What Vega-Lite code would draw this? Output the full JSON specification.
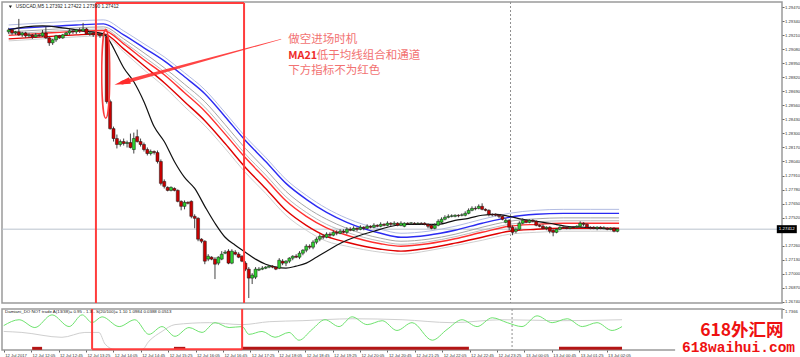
{
"$schema": "https://vega.github.io/schema/vega-lite/v6.json",
"padding": 0,
"background": "white",
"spacing": 2,
"config": {
  "view": {"stroke": "#9a9a9a", "strokeWidth": 1.5},
  "font": "Liberation Sans",
  "axis": {"labelFont": "Liberation Sans", "labelFontSize": 4.2, "labelColor": "#333333", "tickColor": "#666666", "domain": false, "grid": false, "labelOverlap": false}
},
"datasets": {
  "candles": [
{"i":0,"o":1.29243,"h":1.2928,"l":1.29224,"c":1.29261},
{"i":1,"o":1.29261,"h":1.2927,"l":1.29215,"c":1.29233},
{"i":2,"o":1.29233,"h":1.29252,"l":1.29215,"c":1.29243},
{"i":3,"o":1.29243,"h":1.29363,"l":1.29206,"c":1.29215},
{"i":4,"o":1.29215,"h":1.29243,"l":1.29196,"c":1.29233},
{"i":5,"o":1.29233,"h":1.29243,"l":1.29187,"c":1.29206},
{"i":6,"o":1.29206,"h":1.29233,"l":1.29187,"c":1.29215},
{"i":7,"o":1.29215,"h":1.29224,"l":1.29178,"c":1.29196},
{"i":8,"o":1.29196,"h":1.29233,"l":1.29187,"c":1.29215},
{"i":9,"o":1.29215,"h":1.29224,"l":1.29196,"c":1.29206},
{"i":10,"o":1.29206,"h":1.29261,"l":1.29196,"c":1.29233},
{"i":11,"o":1.29233,"h":1.29289,"l":1.29178,"c":1.29187},
{"i":12,"o":1.29187,"h":1.29196,"l":1.29113,"c":1.29141},
{"i":13,"o":1.29141,"h":1.29178,"l":1.29122,"c":1.29169},
{"i":14,"o":1.29169,"h":1.29215,"l":1.2915,"c":1.29206},
{"i":15,"o":1.29206,"h":1.29215,"l":1.29178,"c":1.29187},
{"i":16,"o":1.29187,"h":1.29224,"l":1.29178,"c":1.29215},
{"i":17,"o":1.29215,"h":1.29243,"l":1.29206,"c":1.29233},
{"i":18,"o":1.29233,"h":1.2927,"l":1.29215,"c":1.29252},
{"i":19,"o":1.29252,"h":1.29261,"l":1.29224,"c":1.29243},
{"i":20,"o":1.29243,"h":1.2927,"l":1.29224,"c":1.29261},
{"i":21,"o":1.29261,"h":1.2928,"l":1.29233,"c":1.29252},
{"i":22,"o":1.29252,"h":1.29326,"l":1.29243,"c":1.2927},
{"i":23,"o":1.2927,"h":1.2928,"l":1.29215,"c":1.29224},
{"i":24,"o":1.29224,"h":1.29252,"l":1.29206,"c":1.29233},
{"i":25,"o":1.29233,"h":1.29243,"l":1.29196,"c":1.29215},
{"i":26,"o":1.29215,"h":1.29243,"l":1.29196,"c":1.29224},
{"i":27,"o":1.29224,"h":1.29233,"l":1.29187,"c":1.29206},
{"i":28,"o":1.29206,"h":1.29243,"l":1.29187,"c":1.29215},
{"i":29,"o":1.29196,"h":1.29224,"l":1.28577,"c":1.28595},
{"i":30,"o":1.28595,"h":1.28614,"l":1.28336,"c":1.28345},
{"i":31,"o":1.28345,"h":1.28364,"l":1.28225,"c":1.28253},
{"i":32,"o":1.28253,"h":1.2829,"l":1.28161,"c":1.28198},
{"i":33,"o":1.28198,"h":1.28244,"l":1.28179,"c":1.28225},
{"i":34,"o":1.28225,"h":1.28253,"l":1.28188,"c":1.28207},
{"i":35,"o":1.28207,"h":1.28234,"l":1.2817,"c":1.28216},
{"i":36,"o":1.28216,"h":1.28299,"l":1.28161,"c":1.2817},
{"i":37,"o":1.28151,"h":1.28308,"l":1.28114,"c":1.28253},
{"i":38,"o":1.28271,"h":1.28336,"l":1.28216,"c":1.28225},
{"i":39,"o":1.28225,"h":1.28253,"l":1.28179,"c":1.28198},
{"i":40,"o":1.28198,"h":1.28216,"l":1.28133,"c":1.28151},
{"i":41,"o":1.28151,"h":1.2817,"l":1.28096,"c":1.28114},
{"i":42,"o":1.28114,"h":1.28151,"l":1.28096,"c":1.28133},
{"i":43,"o":1.28133,"h":1.28142,"l":1.28105,"c":1.28123},
{"i":44,"o":1.28123,"h":1.28142,"l":1.28022,"c":1.2804},
{"i":45,"o":1.2804,"h":1.28059,"l":1.27818,"c":1.27837},
{"i":46,"o":1.27855,"h":1.27874,"l":1.2779,"c":1.27809},
{"i":47,"o":1.278,"h":1.27809,"l":1.27763,"c":1.27772},
{"i":48,"o":1.27772,"h":1.27809,"l":1.27763,"c":1.278},
{"i":49,"o":1.2779,"h":1.278,"l":1.27763,"c":1.27772},
{"i":50,"o":1.27772,"h":1.27781,"l":1.27661,"c":1.2767},
{"i":51,"o":1.2767,"h":1.27679,"l":1.27587,"c":1.27624},
{"i":52,"o":1.27624,"h":1.27679,"l":1.27596,"c":1.27661},
{"i":53,"o":1.27661,"h":1.2767,"l":1.27642,"c":1.27652},
{"i":54,"o":1.2767,"h":1.27679,"l":1.27513,"c":1.27531},
{"i":55,"o":1.27531,"h":1.2755,"l":1.2742,"c":1.27513},
{"i":56,"o":1.27513,"h":1.27522,"l":1.273,"c":1.27319},
{"i":57,"o":1.27319,"h":1.27328,"l":1.27282,"c":1.273},
{"i":58,"o":1.273,"h":1.27309,"l":1.27087,"c":1.27115},
{"i":59,"o":1.27134,"h":1.2718,"l":1.27115,"c":1.27161},
{"i":60,"o":1.27152,"h":1.27161,"l":1.27124,"c":1.27134},
{"i":61,"o":1.27134,"h":1.27152,"l":1.26949,"c":1.27087},
{"i":62,"o":1.27097,"h":1.27161,"l":1.27078,"c":1.27152},
{"i":63,"o":1.27134,"h":1.27208,"l":1.27124,"c":1.2718},
{"i":64,"o":1.27189,"h":1.27217,"l":1.2718,"c":1.27198},
{"i":65,"o":1.27208,"h":1.27226,"l":1.27087,"c":1.27097},
{"i":66,"o":1.27097,"h":1.27226,"l":1.27087,"c":1.27208},
{"i":67,"o":1.27198,"h":1.27217,"l":1.2717,"c":1.2718},
{"i":68,"o":1.2718,"h":1.27198,"l":1.27143,"c":1.27152},
{"i":69,"o":1.27161,"h":1.2717,"l":1.27106,"c":1.27115},
{"i":70,"o":1.27097,"h":1.27115,"l":1.27023,"c":1.27041},
{"i":71,"o":1.27041,"h":1.2706,"l":1.26773,"c":1.26958},
{"i":72,"o":1.26958,"h":1.27004,"l":1.26903,"c":1.26986},
{"i":73,"o":1.26967,"h":1.2706,"l":1.26949,"c":1.27041},
{"i":74,"o":1.27032,"h":1.2706,"l":1.27023,"c":1.27041},
{"i":75,"o":1.27041,"h":1.27069,"l":1.27032,"c":1.2705},
{"i":76,"o":1.2705,"h":1.27069,"l":1.27041,"c":1.2706},
{"i":77,"o":1.2706,"h":1.27078,"l":1.2705,"c":1.27069},
{"i":78,"o":1.27069,"h":1.27078,"l":1.2705,"c":1.2706},
{"i":79,"o":1.2706,"h":1.27069,"l":1.27032,"c":1.27041},
{"i":80,"o":1.2705,"h":1.27143,"l":1.27041,"c":1.27124},
{"i":81,"o":1.27115,"h":1.27134,"l":1.27078,"c":1.27097},
{"i":82,"o":1.27097,"h":1.27124,"l":1.27069,"c":1.27115},
{"i":83,"o":1.27115,"h":1.27152,"l":1.27097,"c":1.27143},
{"i":84,"o":1.27143,"h":1.2717,"l":1.27124,"c":1.27161},
{"i":85,"o":1.27161,"h":1.2718,"l":1.27143,"c":1.27152},
{"i":86,"o":1.27152,"h":1.27208,"l":1.27134,"c":1.27189},
{"i":87,"o":1.27189,"h":1.27226,"l":1.2717,"c":1.27217},
{"i":88,"o":1.27217,"h":1.27272,"l":1.27198,"c":1.27254},
{"i":89,"o":1.27254,"h":1.27272,"l":1.27226,"c":1.27245},
{"i":90,"o":1.27245,"h":1.27309,"l":1.27226,"c":1.27291},
{"i":91,"o":1.27291,"h":1.27337,"l":1.27272,"c":1.27319},
{"i":92,"o":1.27319,"h":1.27365,"l":1.273,"c":1.27346},
{"i":93,"o":1.27346,"h":1.27365,"l":1.27319,"c":1.27337},
{"i":94,"o":1.27337,"h":1.27383,"l":1.27328,"c":1.27365},
{"i":95,"o":1.27365,"h":1.27383,"l":1.27337,"c":1.27356},
{"i":96,"o":1.27356,"h":1.27402,"l":1.27346,"c":1.27383},
{"i":97,"o":1.27383,"h":1.27402,"l":1.27356,"c":1.27374},
{"i":98,"o":1.27374,"h":1.27411,"l":1.27365,"c":1.27393},
{"i":99,"o":1.27393,"h":1.27411,"l":1.27374,"c":1.27383},
{"i":100,"o":1.27383,"h":1.2743,"l":1.27365,"c":1.27411},
{"i":101,"o":1.27411,"h":1.2743,"l":1.27393,"c":1.27402},
{"i":102,"o":1.27402,"h":1.27439,"l":1.27393,"c":1.2742},
{"i":103,"o":1.2742,"h":1.2743,"l":1.27393,"c":1.27411},
{"i":104,"o":1.27411,"h":1.27448,"l":1.27402,"c":1.2743},
{"i":105,"o":1.2743,"h":1.27439,"l":1.27402,"c":1.2742},
{"i":106,"o":1.2742,"h":1.27457,"l":1.27411,"c":1.27439},
{"i":107,"o":1.27439,"h":1.27448,"l":1.2742,"c":1.2743},
{"i":108,"o":1.2743,"h":1.27467,"l":1.2742,"c":1.27448},
{"i":109,"o":1.27448,"h":1.27457,"l":1.2743,"c":1.27439},
{"i":110,"o":1.27439,"h":1.27476,"l":1.2743,"c":1.27457},
{"i":111,"o":1.27457,"h":1.27467,"l":1.27439,"c":1.27448},
{"i":112,"o":1.27448,"h":1.27485,"l":1.27439,"c":1.27467},
{"i":113,"o":1.27467,"h":1.27476,"l":1.27439,"c":1.27457},
{"i":114,"o":1.27457,"h":1.27485,"l":1.27448,"c":1.27467},
{"i":115,"o":1.27467,"h":1.27476,"l":1.27439,"c":1.27448},
{"i":116,"o":1.27448,"h":1.27485,"l":1.27439,"c":1.27467},
{"i":117,"o":1.27439,"h":1.27476,"l":1.2743,"c":1.27467},
{"i":118,"o":1.27467,"h":1.27476,"l":1.27457,"c":1.27462},
{"i":119,"o":1.27467,"h":1.27476,"l":1.27457,"c":1.27471},
{"i":120,"o":1.27467,"h":1.27476,"l":1.27457,"c":1.27462},
{"i":121,"o":1.27462,"h":1.27476,"l":1.27457,"c":1.27467},
{"i":122,"o":1.27467,"h":1.27476,"l":1.27452,"c":1.27462},
{"i":123,"o":1.27467,"h":1.27476,"l":1.27448,"c":1.27457},
{"i":124,"o":1.27457,"h":1.27467,"l":1.2742,"c":1.27439},
{"i":125,"o":1.27448,"h":1.27457,"l":1.27411,"c":1.2742},
{"i":126,"o":1.2742,"h":1.27467,"l":1.27411,"c":1.27448},
{"i":127,"o":1.27448,"h":1.27504,"l":1.27439,"c":1.27485},
{"i":128,"o":1.27476,"h":1.27522,"l":1.27467,"c":1.27504},
{"i":129,"o":1.27504,"h":1.27541,"l":1.27494,"c":1.27522},
{"i":130,"o":1.27522,"h":1.2755,"l":1.27513,"c":1.27531},
{"i":131,"o":1.27531,"h":1.2755,"l":1.27522,"c":1.27536},
{"i":132,"o":1.27531,"h":1.2755,"l":1.27522,"c":1.27541},
{"i":133,"o":1.27541,"h":1.2755,"l":1.27522,"c":1.27536},
{"i":134,"o":1.27541,"h":1.27559,"l":1.27531,"c":1.27545},
{"i":135,"o":1.27541,"h":1.27578,"l":1.27531,"c":1.27559},
{"i":136,"o":1.27559,"h":1.27605,"l":1.2755,"c":1.27587},
{"i":137,"o":1.27587,"h":1.27624,"l":1.27578,"c":1.27605},
{"i":138,"o":1.27605,"h":1.27624,"l":1.27587,"c":1.27601},
{"i":139,"o":1.27605,"h":1.27642,"l":1.27596,"c":1.27624},
{"i":140,"o":1.27624,"h":1.27652,"l":1.27587,"c":1.27596},
{"i":141,"o":1.27596,"h":1.27605,"l":1.27578,"c":1.27587},
{"i":142,"o":1.27587,"h":1.27596,"l":1.27531,"c":1.2755},
{"i":143,"o":1.2755,"h":1.27559,"l":1.27531,"c":1.27545},
{"i":144,"o":1.2755,"h":1.27559,"l":1.27531,"c":1.27541},
{"i":145,"o":1.27541,"h":1.2755,"l":1.27513,"c":1.27531},
{"i":146,"o":1.27531,"h":1.27541,"l":1.27494,"c":1.27504},
{"i":147,"o":1.27476,"h":1.27513,"l":1.27467,"c":1.27494},
{"i":148,"o":1.27494,"h":1.27504,"l":1.27402,"c":1.2743},
{"i":149,"o":1.2743,"h":1.27448,"l":1.27356,"c":1.27383},
{"i":150,"o":1.27393,"h":1.2743,"l":1.27374,"c":1.27411},
{"i":151,"o":1.27411,"h":1.27485,"l":1.27402,"c":1.27467},
{"i":152,"o":1.27467,"h":1.27513,"l":1.27457,"c":1.27494},
{"i":153,"o":1.27494,"h":1.27504,"l":1.27467,"c":1.27476},
{"i":154,"o":1.27476,"h":1.27504,"l":1.27467,"c":1.27494},
{"i":155,"o":1.27494,"h":1.27504,"l":1.27476,"c":1.27485},
{"i":156,"o":1.27485,"h":1.27494,"l":1.27439,"c":1.27448},
{"i":157,"o":1.27448,"h":1.27457,"l":1.2743,"c":1.27439},
{"i":158,"o":1.27439,"h":1.27457,"l":1.27411,"c":1.2742},
{"i":159,"o":1.2742,"h":1.27439,"l":1.27402,"c":1.2743},
{"i":160,"o":1.2743,"h":1.27439,"l":1.27374,"c":1.27393},
{"i":161,"o":1.27402,"h":1.27411,"l":1.27346,"c":1.27383},
{"i":162,"o":1.27383,"h":1.2742,"l":1.27374,"c":1.27411},
{"i":163,"o":1.27411,"h":1.27439,"l":1.27402,"c":1.2743},
{"i":164,"o":1.2743,"h":1.27439,"l":1.2742,"c":1.27425},
{"i":165,"o":1.2743,"h":1.27439,"l":1.27411,"c":1.2742},
{"i":166,"o":1.2742,"h":1.27439,"l":1.27411,"c":1.2743},
{"i":167,"o":1.2743,"h":1.27439,"l":1.2742,"c":1.27425},
{"i":168,"o":1.2743,"h":1.27448,"l":1.2742,"c":1.27439},
{"i":169,"o":1.27439,"h":1.27485,"l":1.2743,"c":1.27467},
{"i":170,"o":1.27467,"h":1.27476,"l":1.27439,"c":1.27457},
{"i":171,"o":1.27457,"h":1.27467,"l":1.2742,"c":1.2743},
{"i":172,"o":1.2743,"h":1.27439,"l":1.27411,"c":1.27425},
{"i":173,"o":1.2743,"h":1.27439,"l":1.27411,"c":1.2742},
{"i":174,"o":1.2742,"h":1.27439,"l":1.27402,"c":1.2743},
{"i":175,"o":1.2743,"h":1.27439,"l":1.27411,"c":1.2742},
{"i":176,"o":1.2742,"h":1.27439,"l":1.27411,"c":1.27425},
{"i":177,"o":1.2742,"h":1.2743,"l":1.27402,"c":1.27411},
{"i":178,"o":1.27411,"h":1.2743,"l":1.27402,"c":1.2742},
{"i":179,"o":1.2742,"h":1.2743,"l":1.27383,"c":1.27393},
{"i":180,"o":1.27393,"h":1.2742,"l":1.27383,"c":1.27412}
  ],
  "ma": [
{"s":"lb","i":0,"v":1.29307},{"s":"b","i":0,"v":1.2927},{"s":"g1","i":0,"v":1.29243},{"s":"g2","i":0,"v":1.29224},{"s":"r1","i":0,"v":1.2921},{"s":"r2","i":0,"v":1.29178},{"s":"g4","i":0,"v":1.29159},
{"s":"lb","i":10,"v":1.29326},{"s":"b","i":10,"v":1.29289},{"s":"g1","i":10,"v":1.29261},{"s":"g2","i":10,"v":1.29243},{"s":"r1","i":10,"v":1.29229},{"s":"r2","i":10,"v":1.29196},{"s":"g4","i":10,"v":1.29178},
{"s":"lb","i":20,"v":1.29344},{"s":"b","i":20,"v":1.29307},{"s":"g1","i":20,"v":1.2928},{"s":"g2","i":20,"v":1.29261},{"s":"r1","i":20,"v":1.29247},{"s":"r2","i":20,"v":1.29215},{"s":"g4","i":20,"v":1.29196},
{"s":"lb","i":28,"v":1.29354},{"s":"b","i":28,"v":1.29317},{"s":"g1","i":28,"v":1.29289},{"s":"g2","i":28,"v":1.2927},{"s":"r1","i":28,"v":1.29256},{"s":"r2","i":28,"v":1.29224},{"s":"g4","i":28,"v":1.29206},
{"s":"lb","i":34,"v":1.29252},{"s":"b","i":34,"v":1.29215},{"s":"g1","i":34,"v":1.29178},{"s":"g2","i":34,"v":1.2915},{"s":"r1","i":34,"v":1.29132},{"s":"r2","i":34,"v":1.29085},{"s":"g4","i":34,"v":1.29058},
{"s":"lb","i":40,"v":1.29132},{"s":"b","i":40,"v":1.29095},{"s":"g1","i":40,"v":1.29048},{"s":"g2","i":40,"v":1.29011},{"s":"r1","i":40,"v":1.28984},{"s":"r2","i":40,"v":1.28928},{"s":"g4","i":40,"v":1.28891},
{"s":"lb","i":46,"v":1.29011},{"s":"b","i":46,"v":1.28974},{"s":"g1","i":46,"v":1.2891},{"s":"g2","i":46,"v":1.28873},{"s":"r1","i":46,"v":1.28845},{"s":"r2","i":46,"v":1.28771},{"s":"g4","i":46,"v":1.28734},
{"s":"lb","i":52,"v":1.28863},{"s":"b","i":52,"v":1.28826},{"s":"g1","i":52,"v":1.28757},{"s":"g2","i":52,"v":1.28711},{"s":"r1","i":52,"v":1.28678},{"s":"r2","i":52,"v":1.28595},{"s":"g4","i":52,"v":1.28549},
{"s":"lb","i":58,"v":1.28706},{"s":"b","i":58,"v":1.28669},{"s":"g1","i":58,"v":1.28595},{"s":"g2","i":58,"v":1.28544},{"s":"r1","i":58,"v":1.28507},{"s":"r2","i":58,"v":1.28419},{"s":"g4","i":58,"v":1.28373},
{"s":"lb","i":64,"v":1.28493},{"s":"b","i":64,"v":1.28456},{"s":"g1","i":64,"v":1.28382},{"s":"g2","i":64,"v":1.28331},{"s":"r1","i":64,"v":1.28294},{"s":"r2","i":64,"v":1.28207},{"s":"g4","i":64,"v":1.28161},
{"s":"lb","i":70,"v":1.28271},{"s":"b","i":70,"v":1.28234},{"s":"g1","i":70,"v":1.28161},{"s":"g2","i":70,"v":1.28109},{"s":"r1","i":70,"v":1.28074},{"s":"r2","i":70,"v":1.27985},{"s":"g4","i":70,"v":1.27938},
{"s":"lb","i":76,"v":1.28077},{"s":"b","i":76,"v":1.2804},{"s":"g1","i":76,"v":1.27966},{"s":"g2","i":76,"v":1.27915},{"s":"r1","i":76,"v":1.27878},{"s":"r2","i":76,"v":1.2779},{"s":"g4","i":76,"v":1.27744},
{"s":"lb","i":82,"v":1.27874},{"s":"b","i":82,"v":1.27837},{"s":"g1","i":82,"v":1.27763},{"s":"g2","i":82,"v":1.27712},{"s":"r1","i":82,"v":1.27675},{"s":"r2","i":82,"v":1.27587},{"s":"g4","i":82,"v":1.27541},
{"s":"lb","i":88,"v":1.27726},{"s":"b","i":88,"v":1.27689},{"s":"g1","i":88,"v":1.27615},{"s":"g2","i":88,"v":1.27568},{"s":"r1","i":88,"v":1.27531},{"s":"r2","i":88,"v":1.27448},{"s":"g4","i":88,"v":1.27402},
{"s":"lb","i":94,"v":1.27605},{"s":"b","i":94,"v":1.27568},{"s":"g1","i":94,"v":1.27504},{"s":"g2","i":94,"v":1.27457},{"s":"r1","i":94,"v":1.27425},{"s":"r2","i":94,"v":1.27346},{"s":"g4","i":94,"v":1.273},
{"s":"lb","i":100,"v":1.27513},{"s":"b","i":100,"v":1.27476},{"s":"g1","i":100,"v":1.2742},{"s":"g2","i":100,"v":1.27383},{"s":"r1","i":100,"v":1.27356},{"s":"r2","i":100,"v":1.27291},{"s":"g4","i":100,"v":1.27254},
{"s":"lb","i":110,"v":1.27411},{"s":"b","i":110,"v":1.27374},{"s":"g1","i":110,"v":1.27328},{"s":"g2","i":110,"v":1.273},{"s":"r1","i":110,"v":1.27277},{"s":"r2","i":110,"v":1.27226},{"s":"g4","i":110,"v":1.27198},
{"s":"lb","i":116,"v":1.27374},{"s":"b","i":116,"v":1.27337},{"s":"g1","i":116,"v":1.273},{"s":"g2","i":116,"v":1.27272},{"s":"r1","i":116,"v":1.27254},{"s":"r2","i":116,"v":1.27208},{"s":"g4","i":116,"v":1.2718},
{"s":"lb","i":124,"v":1.27393},{"s":"b","i":124,"v":1.27356},{"s":"g1","i":124,"v":1.27319},{"s":"g2","i":124,"v":1.27295},{"s":"r1","i":124,"v":1.27277},{"s":"r2","i":124,"v":1.27235},{"s":"g4","i":124,"v":1.27212},
{"s":"lb","i":132,"v":1.27439},{"s":"b","i":132,"v":1.27402},{"s":"g1","i":132,"v":1.27365},{"s":"g2","i":132,"v":1.27342},{"s":"r1","i":132,"v":1.27323},{"s":"r2","i":132,"v":1.27282},{"s":"g4","i":132,"v":1.27259},
{"s":"lb","i":140,"v":1.27504},{"s":"b","i":140,"v":1.27467},{"s":"g1","i":140,"v":1.2743},{"s":"g2","i":140,"v":1.27402},{"s":"r1","i":140,"v":1.27383},{"s":"r2","i":140,"v":1.27337},{"s":"g4","i":140,"v":1.27309},
{"s":"lb","i":148,"v":1.27559},{"s":"b","i":148,"v":1.27522},{"s":"g1","i":148,"v":1.27485},{"s":"g2","i":148,"v":1.27457},{"s":"r1","i":148,"v":1.27439},{"s":"r2","i":148,"v":1.27393},{"s":"g4","i":148,"v":1.27365},
{"s":"lb","i":156,"v":1.27587},{"s":"b","i":156,"v":1.2755},{"s":"g1","i":156,"v":1.27508},{"s":"g2","i":156,"v":1.2748},{"s":"r1","i":156,"v":1.27457},{"s":"r2","i":156,"v":1.27411},{"s":"g4","i":156,"v":1.27383},
{"s":"lb","i":164,"v":1.27596},{"s":"b","i":164,"v":1.27559},{"s":"g1","i":164,"v":1.27517},{"s":"g2","i":164,"v":1.2749},{"s":"r1","i":164,"v":1.27467},{"s":"r2","i":164,"v":1.2742},{"s":"g4","i":164,"v":1.27393},
{"s":"lb","i":172,"v":1.27596},{"s":"b","i":172,"v":1.27559},{"s":"g1","i":172,"v":1.27517},{"s":"g2","i":172,"v":1.2749},{"s":"r1","i":172,"v":1.27467},{"s":"r2","i":172,"v":1.2742},{"s":"g4","i":172,"v":1.27393},
{"s":"lb","i":180.5,"v":1.27596},{"s":"b","i":180.5,"v":1.27559},{"s":"g1","i":180.5,"v":1.27517},{"s":"g2","i":180.5,"v":1.2749},{"s":"r1","i":180.5,"v":1.27467},{"s":"r2","i":180.5,"v":1.2742},{"s":"g4","i":180.5,"v":1.27393}
  ],
  "ma21": [
{"i":0,"v":1.29261},{"i":5,"v":1.29289},{"i":10,"v":1.29298},{"i":16,"v":1.2928},{"i":22,"v":1.29252},{"i":28,"v":1.29224},{"i":30,"v":1.2915},{"i":32,"v":1.2903},{"i":34,"v":1.2891},{"i":37,"v":1.2878},{"i":40,"v":1.28595},{"i":43,"v":1.28364},{"i":46,"v":1.28225},{"i":49,"v":1.2804},{"i":52,"v":1.27892},{"i":55,"v":1.2779},{"i":58,"v":1.27624},{"i":61,"v":1.27467},{"i":64,"v":1.27337},{"i":67,"v":1.27263},{"i":70,"v":1.27198},{"i":73,"v":1.27134},{"i":76,"v":1.27087},{"i":79,"v":1.2706},{"i":82,"v":1.2705},{"i":85,"v":1.27069},{"i":88,"v":1.27097},{"i":91,"v":1.27152},{"i":94,"v":1.27208},{"i":97,"v":1.27263},{"i":100,"v":1.27309},{"i":104,"v":1.27356},{"i":108,"v":1.27393},{"i":112,"v":1.2743},{"i":117,"v":1.27457},{"i":122,"v":1.27457},{"i":127,"v":1.27457},{"i":132,"v":1.27494},{"i":136,"v":1.27513},{"i":140,"v":1.27541},{"i":144,"v":1.2755},{"i":148,"v":1.27531},{"i":152,"v":1.27504},{"i":156,"v":1.27485},{"i":160,"v":1.27467},{"i":165,"v":1.27439},{"i":170,"v":1.2743},{"i":175,"v":1.2742},{"i":180,"v":1.27411}
  ],
  "osc": [
{"i":0,"v":1.034},{"i":4.5,"v":1.282},{"i":9.1,"v":0.951},{"i":14.1,"v":1.489},{"i":19.1,"v":0.992},{"i":22.9,"v":1.489},{"i":25.8,"v":1.158},{"i":28.7,"v":1.406},{"i":33.7,"v":0.992},{"i":38.3,"v":1.282},{"i":42.4,"v":0.662},{"i":46.2,"v":0.992},{"i":50,"v":0.579},{"i":54.1,"v":0.951},{"i":57.9,"v":0.744},{"i":61.7,"v":1.158},{"i":65.8,"v":0.951},{"i":69.6,"v":0.992},{"i":71.6,"v":0.662},{"i":75.4,"v":0.786},{"i":79.2,"v":0.538},{"i":83.3,"v":0.744},{"i":86.2,"v":0.414},{"i":90,"v":0.868},{"i":93.8,"v":1.282},{"i":97.9,"v":0.992},{"i":101.7,"v":1.406},{"i":106.1,"v":1.075},{"i":110.5,"v":1.241},{"i":114.8,"v":0.827},{"i":119.2,"v":1.158},{"i":125.1,"v":0.414},{"i":129.4,"v":0.868},{"i":133.8,"v":1.282},{"i":138.2,"v":0.992},{"i":142.6,"v":1.365},{"i":147,"v":1.158},{"i":151.3,"v":0.992},{"i":155.7,"v":1.447},{"i":160.1,"v":1.158},{"i":164.5,"v":1.323},{"i":168.9,"v":0.992},{"i":173.2,"v":1.158},{"i":177.6,"v":0.827},{"i":180.5,"v":0.992}
  ],
  "osc2": [
{"i":0,"v":0.786},{"i":5.3,"v":0.744},{"i":17,"v":0.538},{"i":23.7,"v":0.744},{"i":27.8,"v":0.744},{"i":29.6,"v":0.248},{"i":32.5,"v":0.02},{"i":40.4,"v":0.02},{"i":42.4,"v":0.372},{"i":46.2,"v":0.786},{"i":50,"v":1.075},{"i":60,"v":1.158},{"i":69.6,"v":1.075},{"i":77.5,"v":1.199},{"i":87.1,"v":1.241},{"i":101.7,"v":1.323},{"i":116.3,"v":1.282},{"i":130.9,"v":1.158},{"i":145.5,"v":1.282},{"i":163,"v":1.241},{"i":180.5,"v":1.282}
  ],
  "nogo": [
{"a":8.3,"b":11.2},{"a":49.7,"b":53},{"a":69.6,"b":135.8},{"a":162.1,"b":180.5}
  ],
  "notes": [
{"i":82.7,"p":1.29169,"t":"做空进场时机"},
{"i":91.1,"p":1.29021,"t":"低于均线组合和通道"},
{"i":82.7,"p":1.28882,"t":"下方指标不为红色"}
  ]
},
"vconcat": [
{
  "width": 780,
  "height": 301,
  "layer": [
    {
      "data": {"values": [{"p": 1.27412}]},
      "mark": {"type": "rule", "color": "#b9c2cd", "strokeWidth": 1},
      "encoding": {
        "y": {"field": "p", "type": "quantitative",
              "scale": {"domain": [1.26727, 1.2952], "nice": false, "zero": false},
              "axis": {"orient": "right", "title": null, "format": ".5f", "tickSize": 2, "labelPadding": 0.5, "labelOverlap": false, "tickCount": 100,
                       "values": [1.2674,1.2687,1.27,1.2713,1.2726,1.2752,1.2765,1.2778,1.2791,1.2804,1.2817,1.283,1.2843,1.2856,1.2869,1.2882,1.2895,1.2908,1.2921,1.2934,1.2947]}}
      }
    },
    {
      "data": {"values": [{"t": 148.4}]},
      "mark": {"type": "rule", "color": "#8f8f8f", "strokeDash": [2, 2], "strokeWidth": 1},
      "encoding": {
        "x": {"field": "t", "type": "quantitative", "scale": {"domain": [-0.5, 227.2], "nice": false, "zero": false}, "axis": null}
      }
    },
    {
      "data": {"name": "ma"},
      "transform": [{"filter": "indexof(['lb','g1','g2','g4'], datum.s) >= 0"}],
      "mark": {"type": "line", "strokeWidth": 0.9, "interpolate": "monotone"},
      "encoding": {
        "x": {"field": "i", "type": "quantitative", "axis": null},
        "y": {"field": "v", "type": "quantitative"},
        "color": {"field": "s", "type": "nominal", "legend": null,
                  "scale": {"domain": ["lb","g1","g2","g4","b","r1","r2"], "range": ["#a9b3de","#9c9c9c","#b4b4b4","#c9c9c9","#2b2bf2","#ff3030","#e00000"]}}
      }
    },
    {
      "data": {"name": "ma"},
      "transform": [{"filter": "indexof(['b','r1','r2'], datum.s) >= 0"}],
      "mark": {"type": "line", "strokeWidth": 1.4, "interpolate": "monotone"},
      "encoding": {
        "x": {"field": "i", "type": "quantitative", "axis": null},
        "y": {"field": "v", "type": "quantitative"},
        "color": {"field": "s", "type": "nominal", "legend": null}
      }
    },
    {
      "data": {"name": "ma21"},
      "mark": {"type": "line", "color": "#111111", "strokeWidth": 1.2, "interpolate": "monotone"},
      "encoding": {
        "x": {"field": "i", "type": "quantitative", "axis": null},
        "y": {"field": "v", "type": "quantitative"}
      }
    },
    {
      "data": {"name": "candles"},
      "mark": {"type": "rule", "color": "#444444", "strokeWidth": 1},
      "encoding": {
        "x": {"field": "i", "type": "quantitative", "axis": null},
        "y": {"field": "l", "type": "quantitative"},
        "y2": {"field": "h"}
      }
    },
    {
      "data": {"name": "candles"},
      "mark": {"type": "bar", "size": 3, "stroke": "#151515", "strokeWidth": 0.5},
      "encoding": {
        "x": {"field": "i", "type": "quantitative", "axis": null},
        "y": {"field": "o", "type": "quantitative"},
        "y2": {"field": "c"},
        "color": {"condition": {"test": "datum.c >= datum.o", "value": "#2fd12f"}, "value": "#c80000"}
      }
    },
    {
      "data": {"values": [{"xv": 25.8}, {"xv": 69.6}]},
      "mark": {"type": "rule", "color": "#ff3c3c", "strokeWidth": 2},
      "encoding": {
        "x": {"field": "xv", "type": "quantitative", "axis": null},
        "y": {"datum": 1.2951, "type": "quantitative"},
        "y2": {"datum": 1.26727}
      }
    },
    {
      "data": {"values": [{"a": 25.8, "b": 69.6, "p": 1.2951}]},
      "mark": {"type": "rule", "color": "#ff3c3c", "strokeWidth": 2},
      "encoding": {
        "x": {"field": "a", "type": "quantitative", "axis": null},
        "x2": {"field": "b"},
        "y": {"field": "p", "type": "quantitative"}
      }
    },
    {
      "data": {"values": [{"i": 28.7, "p": 1.28854}]},
      "mark": {"type": "point", "shape": "M0,-1A0.09,1 0 1,1 0,1A0.09,1 0 1,1 0,-1Z", "size": 7921, "filled": false, "color": "#ff3a3a", "strokeWidth": 1.5, "opacity": 1},
      "encoding": {
        "x": {"field": "i", "type": "quantitative", "axis": null},
        "y": {"field": "p", "type": "quantitative"}
      }
    },
    {
      "data": {"values": [{"i": 80.5, "p": 1.29175, "k": 0}, {"i": 33.57, "p": 1.28772, "k": 1}]},
      "mark": {"type": "trail", "color": "#ff3030", "opacity": 0.9},
      "encoding": {
        "x": {"field": "i", "type": "quantitative", "axis": null},
        "y": {"field": "p", "type": "quantitative"},
        "size": {"field": "k", "type": "quantitative", "legend": null, "scale": {"domain": [0, 1], "range": [0.6, 3.8]}}
      }
    },
    {
      "data": {"values": [{"i": 33.57, "p": 1.28772}]},
      "mark": {"type": "point", "shape": "M-1,0L1,-0.42L1,0.42Z", "size": 256, "angle": 344.8, "filled": true, "color": "#ff2a2a", "opacity": 1},
      "encoding": {
        "x": {"field": "i", "type": "quantitative", "axis": null},
        "y": {"field": "p", "type": "quantitative"}
      }
    },
    {
      "data": {"name": "notes"},
      "mark": {"type": "text", "font": "Noto Sans CJK SC", "fontSize": 11.5, "align": "left", "baseline": "middle", "color": "#f27272"},
      "encoding": {
        "x": {"field": "i", "type": "quantitative", "axis": null},
        "y": {"field": "p", "type": "quantitative"},
        "text": {"field": "t"}
      }
    },
    {
      "data": {"values": [{"i": 82.7, "p": 1.29021, "t": "MA21"}]},
      "mark": {"type": "text", "font": "Noto Sans CJK SC", "fontWeight": "bold", "fontSize": 10.8, "align": "left", "baseline": "middle", "color": "#ee2b2b"},
      "encoding": {
        "x": {"field": "i", "type": "quantitative", "axis": null},
        "y": {"field": "p", "type": "quantitative"},
        "text": {"field": "t"}
      }
    },
    {
      "data": {"values": [{"i": 2.1, "p": 1.29474, "t": "USDCAD,M5  1.27392 1.27422 1.27390 1.27412"}]},
      "mark": {"type": "text", "fontSize": 4.8, "align": "left", "baseline": "middle", "color": "#222222"},
      "encoding": {
        "x": {"field": "i", "type": "quantitative", "axis": null},
        "y": {"field": "p", "type": "quantitative"},
        "text": {"field": "t"}
      }
    },
    {
      "data": {"values": [{"i": 0.5, "p": 1.29474}]},
      "mark": {"type": "point", "shape": "triangle-down", "size": 10, "filled": true, "color": "#222222", "opacity": 1},
      "encoding": {
        "x": {"field": "i", "type": "quantitative", "axis": null},
        "y": {"field": "p", "type": "quantitative"}
      }
    },
    {
      "data": {"values": [{"i": 230.1, "p": 1.27412}]},
      "mark": {"type": "point", "shape": "M-1,-0.4H1V0.4H-1Z", "size": 400, "filled": true, "color": "#000000", "opacity": 1},
      "encoding": {
        "x": {"field": "i", "type": "quantitative", "axis": null},
        "y": {"field": "p", "type": "quantitative"}
      }
    },
    {
      "data": {"values": [{"i": 230.1, "p": 1.27412, "t": "1.27412"}]},
      "mark": {"type": "text", "fontSize": 4.4, "align": "center", "baseline": "middle", "color": "#ffffff"},
      "encoding": {
        "x": {"field": "i", "type": "quantitative", "axis": null},
        "y": {"field": "p", "type": "quantitative"},
        "text": {"field": "t"}
      }
    }
  ]
},
{
  "width": 780,
  "height": 41,
  "layer": [
    {
      "data": {"name": "osc2"},
      "mark": {"type": "line", "color": "#cfcfcf", "strokeWidth": 1, "interpolate": "monotone"},
      "encoding": {
        "x": {"field": "i", "type": "quantitative",
              "scale": {"domain": [-0.5, 227.2], "nice": false, "zero": false},
              "axis": {"orient": "bottom", "title": null, "tickSize": 2, "labelPadding": 1, "labelAlign": "left", "labelOffset": 1,
                       "labelFlush": false, "labelOverlap": false, "tickCount": 100,
                       "values": [0,8,16,24,32,40,48,56,64,72,80,88,96,104,112,120,128,136,144,152,160,168,176],
                       "labelExpr": "['12 Jul 2017','12 Jul 12:05','12 Jul 12:45','12 Jul 13:25','12 Jul 14:05','12 Jul 14:45','12 Jul 15:25','12 Jul 16:05','12 Jul 16:45','12 Jul 17:25','12 Jul 18:05','12 Jul 18:45','12 Jul 19:25','12 Jul 20:05','12 Jul 20:45','12 Jul 21:25','12 Jul 22:05','12 Jul 22:45','12 Jul 23:25','13 Jul 00:05','13 Jul 00:45','13 Jul 01:25','13 Jul 02:05'][round(datum.value/8)]"}},
        "y": {"field": "v", "type": "quantitative",
              "scale": {"domain": [0, 1.7366], "nice": false, "zero": false},
              "axis": {"orient": "right", "title": null, "format": ".4f", "tickSize": 2, "labelPadding": 0.5, "labelBaseline": "top", "labelOverlap": false, "values": [1.7366]}}
      }
    },
    {
      "data": {"name": "osc"},
      "mark": {"type": "line", "color": "#6fe36f", "strokeWidth": 1, "interpolate": "monotone"},
      "encoding": {
        "x": {"field": "i", "type": "quantitative"},
        "y": {"field": "v", "type": "quantitative"}
      }
    },
    {
      "data": {"name": "nogo"},
      "mark": {"type": "rule", "color": "#b31515", "strokeWidth": 3},
      "encoding": {
        "x": {"field": "a", "type": "quantitative"},
        "x2": {"field": "b"},
        "y": {"datum": 0.07, "type": "quantitative"}
      }
    },
    {
      "data": {"values": [{"t": 148.4}]},
      "mark": {"type": "rule", "color": "#8f8f8f", "strokeDash": [2, 2], "strokeWidth": 1},
      "encoding": {
        "x": {"field": "t", "type": "quantitative"}
      }
    },
    {
      "data": {"values": [{"xv": 25.8}, {"xv": 69.6}]},
      "mark": {"type": "rule", "color": "#ff3c3c", "strokeWidth": 2},
      "encoding": {
        "x": {"field": "xv", "type": "quantitative"},
        "y": {"datum": 1.7366, "type": "quantitative"},
        "y2": {"datum": 0.03}
      }
    },
    {
      "data": {"values": [{"a": 25.8, "b": 69.6, "p": 0.03}]},
      "mark": {"type": "rule", "color": "#ff3c3c", "strokeWidth": 2},
      "encoding": {
        "x": {"field": "a", "type": "quantitative"},
        "x2": {"field": "b"},
        "y": {"field": "p", "type": "quantitative"}
      }
    },
    {
      "data": {"values": [{"i": 0.4, "v": 1.6, "t": "Damiani_DO NOT trade A(13/38)= 0.95 - 1.3 - S(20/100)= 1.10  1.0984 0.0388 0.0513"}]},
      "mark": {"type": "text", "fontSize": 4.4, "align": "left", "baseline": "middle", "color": "#222222"},
      "encoding": {
        "x": {"field": "i", "type": "quantitative"},
        "y": {"field": "v", "type": "quantitative"},
        "text": {"field": "t"}
      }
    },
    {
      "data": {"values": [{"a": 196, "b": 232.5, "top": 1.32, "bot": -0.29}]},
      "mark": {"type": "rect", "color": "#ffffff", "opacity": 1},
      "encoding": {
        "x": {"field": "a", "type": "quantitative"},
        "x2": {"field": "b"},
        "y": {"field": "top", "type": "quantitative"},
        "y2": {"field": "bot"}
      }
    },
    {
      "data": {"values": [{"i": 203.3, "v": 0.785, "t": "618外汇网"}]},
      "mark": {"type": "text", "font": "Noto Sans CJK SC", "fontWeight": "bold", "fontSize": 17.5, "align": "left", "baseline": "middle", "color": "#ee1111"},
      "encoding": {
        "x": {"field": "i", "type": "quantitative"},
        "y": {"field": "v", "type": "quantitative"},
        "text": {"field": "t"}
      }
    },
    {
      "data": {"values": [{"i": 214.5, "v": 0.083, "t": "618waihui.com"}]},
      "mark": {"type": "text", "font": "Liberation Mono", "fontWeight": "bold", "fontSize": 14.5, "align": "center", "baseline": "middle", "color": "#ee1111"},
      "encoding": {
        "x": {"field": "i", "type": "quantitative"},
        "y": {"field": "v", "type": "quantitative"},
        "text": {"field": "t"}
      }
    }
  ]
}
]
}
